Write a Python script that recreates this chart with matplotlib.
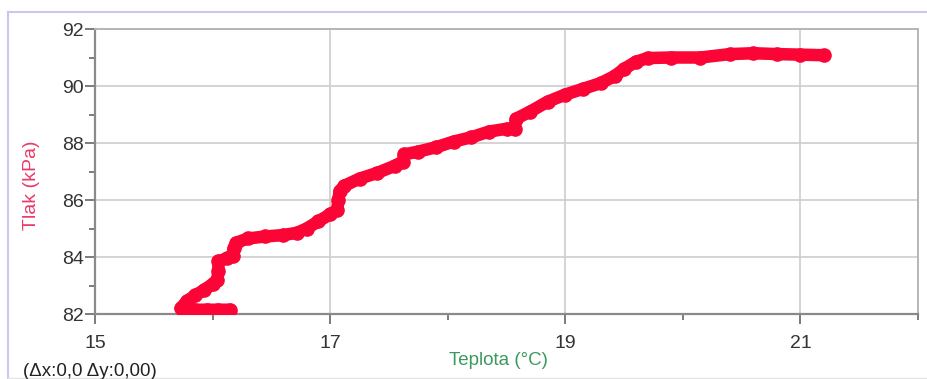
import matplotlib
matplotlib.use("Agg")
import matplotlib.pyplot as plt
from matplotlib.lines import Line2D

# Data
teplota = [16.15, 16.05, 15.95, 15.85, 15.75, 15.73, 15.78, 15.85, 15.93, 16.00,
           16.04, 16.05, 16.05, 16.12, 16.17, 16.18, 16.20, 16.30, 16.45, 16.60,
           16.72, 16.80, 16.90, 17.00, 17.06, 17.07, 17.08, 17.12, 17.25, 17.40,
           17.55, 17.62, 17.63, 17.75, 17.90, 18.05, 18.20, 18.35, 18.50, 18.57,
           18.58, 18.70, 18.85, 19.00, 19.15, 19.30, 19.42, 19.50, 19.60, 19.70,
           19.90, 20.15, 20.40, 20.60, 20.80, 21.00, 21.20]
tlak = [82.15, 82.15, 82.15, 82.15, 82.15, 82.20, 82.45, 82.65, 82.85, 83.05,
        83.20, 83.50, 83.85, 83.95, 84.05, 84.30, 84.50, 84.65, 84.72, 84.77,
        84.85, 85.00, 85.25, 85.50, 85.65, 86.00, 86.30, 86.50, 86.75, 86.95,
        87.20, 87.35, 87.60, 87.70, 87.85, 88.05, 88.20, 88.40, 88.50, 88.50,
        88.85, 89.10, 89.45, 89.70, 89.90, 90.10, 90.35, 90.60, 90.85, 90.98,
        91.00, 91.00, 91.12, 91.15, 91.12, 91.10, 91.08]

x_major = [15, 17, 19, 21]
x_minor = [16, 18, 20, 22]
y_major = [82, 84, 86, 88, 90, 92]
y_minor = [83, 85, 87, 89, 91]

plt.rcParams['font.family'] = ['Liberation Sans', 'DejaVu Sans']

W, H = 928, 379
fig = plt.figure(figsize=(W / 100, H / 100), dpi=100)
fig.patch.set_facecolor('white')

ax = fig.add_axes([95 / W, 1 - 314 / H, (918 - 95) / W, (314 - 29) / H])
red = '#fa0536'
ax.plot(teplota, tlak, color=red, lw=9, solid_capstyle='round',
        solid_joinstyle='round', marker='o', ms=9.5, mec=red, mfc=red, zorder=3)

ax.set_xlim(15, 22)
ax.set_ylim(82, 92)
ax.set_xticks(x_major)
ax.set_xticks(x_minor, minor=True)
ax.set_yticks(y_major)
ax.set_yticks(y_minor, minor=True)
ax.set_xticklabels([str(v) for v in x_major])
ax.set_yticklabels([str(v) for v in y_major])
ax.grid(True, which='major', color='#cdcdcd', lw=1.2, zorder=0)
ax.tick_params(which='major', direction='out', length=7, width=1.2,
               color='#666666', labelsize=14, labelcolor='#333333', pad=1)
ax.tick_params(which='minor', direction='out', length=4, width=1.2,
               color='#666666')
ax.tick_params(axis='x', which='major', pad=8)

for s in ['left', 'bottom']:
    ax.spines[s].set_color('#8a8a8a')
    ax.spines[s].set_linewidth(1.6)
for s in ['top', 'right']:
    ax.spines[s].set_color('#b5b5b5')
    ax.spines[s].set_linewidth(1.4)

ax.set_ylabel('Tlak (kPa)', color='#ea3a6a', fontsize=14)
ax.yaxis.set_label_coords(-55 / 823, 0.453)
ax.set_xlabel('Teplota (°C)', color='#3a9a5e', fontsize=13.5)
ax.xaxis.set_label_coords(0.4897, -0.135)

fig.text(23 / W, 1 - 376 / H, '(Δx:0,0 Δy:0,00)', fontsize=13.5,
         color='#222222', va='baseline', ha='left')

# panel frame
fig.add_artist(Line2D([8 / W, 1], [1 - 12 / H, 1 - 12 / H], color='#c9c9f0', lw=1.5))
fig.add_artist(Line2D([8 / W, 8 / W], [1 - 12 / H, 0], color='#c9c9f0', lw=1.5))
fig.add_artist(Line2D([8 / W, 1], [1 / H, 1 / H], color='#e4e4e4', lw=1))

fig.savefig('out.png', dpi=100)
